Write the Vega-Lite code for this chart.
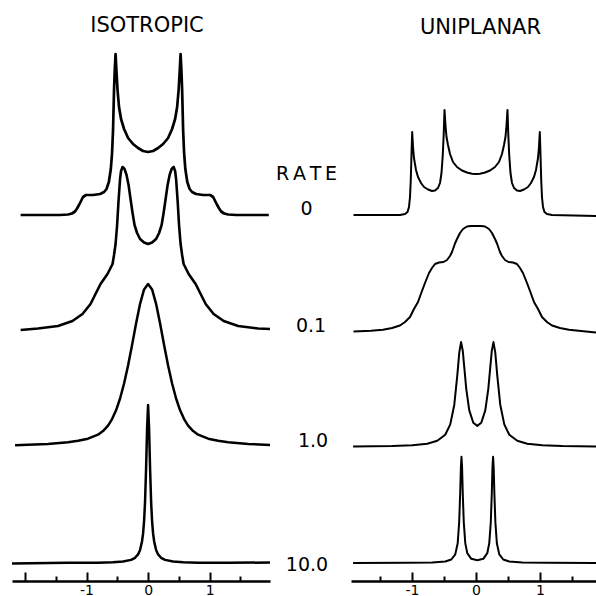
{
  "$schema": "https://vega.github.io/schema/vega-lite/v6.json",
  "padding": {"left": 10, "top": 14, "right": 0, "bottom": 0},
  "background": "white",
  "bounds": "flush",
  "columns": 2,
  "spacing": {"row": 0, "column": 81},
  "resolve": {"scale": {"x": "independent", "y": "independent"}},
  "config": {
    "view": {"stroke": null},
    "font": "DejaVu Sans",
    "line": {"color": "black", "strokeWidth": 2, "strokeJoin": "round", "strokeCap": "butt"},
    "title": {"fontSize": 21, "fontWeight": "normal", "color": "black", "font": "DejaVu Sans", "frame": "group"},
    "axisY": {
      "domain": false, "ticks": false, "labels": false, "grid": false,
      "titleAngle": 0, "titleAlign": "center", "titleBaseline": "alphabetic",
      "titleFont": "DejaVu Sans", "titleFontSize": 19, "titleFontWeight": "normal",
      "titleColor": "black", "titleLineHeight": 35
    },
    "axisX": {
      "values": [-1.5, -1, -0.5, 0, 0.5, 1, 1.5],
      "title": null,
      "grid": false,
      "offset": 18,
      "domainColor": "black",
      "domainWidth": 2.5,
      "tickColor": "black",
      "tickWidth": 2,
      "tickSize": {"condition": {"test": "datum.value % 1 === 0", "value": -9}, "value": -5},
      "labelExpr": "datum.value === -1 ? '-1' : datum.value === 0 ? '0' : datum.value === 1 ? '1' : ''",
      "labelFont": "DejaVu Sans",
      "labelFontSize": 14,
      "labelColor": "black",
      "labelPadding": 11,
      "labelFlush": false,
      "labelOverlap": false
    }
  },
  "datasets": {
    "iso": [
      {"rate": "0", "shift": -2.07, "intensity": 0},
      {"rate": "0", "shift": -1.431, "intensity": 0},
      {"rate": "0", "shift": -1.301, "intensity": 0.5},
      {"rate": "0", "shift": -1.236, "intensity": 1.5},
      {"rate": "0", "shift": -1.187, "intensity": 3.5},
      {"rate": "0", "shift": -1.154, "intensity": 6.5},
      {"rate": "0", "shift": -1.122, "intensity": 10},
      {"rate": "0", "shift": -1.089, "intensity": 14},
      {"rate": "0", "shift": -1.057, "intensity": 18},
      {"rate": "0", "shift": -1.008, "intensity": 20},
      {"rate": "0", "shift": -0.894, "intensity": 20},
      {"rate": "0", "shift": -0.78, "intensity": 21},
      {"rate": "0", "shift": -0.715, "intensity": 23},
      {"rate": "0", "shift": -0.675, "intensity": 26},
      {"rate": "0", "shift": -0.637, "intensity": 33},
      {"rate": "0", "shift": -0.605, "intensity": 46},
      {"rate": "0", "shift": -0.585, "intensity": 62},
      {"rate": "0", "shift": -0.569, "intensity": 85},
      {"rate": "0", "shift": -0.553, "intensity": 125},
      {"rate": "0", "shift": -0.541, "intensity": 145},
      {"rate": "0", "shift": -0.528, "intensity": 161},
      {"rate": "0", "shift": -0.512, "intensity": 142},
      {"rate": "0", "shift": -0.496, "intensity": 125},
      {"rate": "0", "shift": -0.472, "intensity": 108},
      {"rate": "0", "shift": -0.439, "intensity": 96},
      {"rate": "0", "shift": -0.39, "intensity": 86},
      {"rate": "0", "shift": -0.325, "intensity": 77},
      {"rate": "0", "shift": -0.244, "intensity": 71},
      {"rate": "0", "shift": -0.163, "intensity": 67},
      {"rate": "0", "shift": -0.081, "intensity": 64},
      {"rate": "0", "shift": 0, "intensity": 63},
      {"rate": "0", "shift": 0.081, "intensity": 64},
      {"rate": "0", "shift": 0.163, "intensity": 67},
      {"rate": "0", "shift": 0.244, "intensity": 71},
      {"rate": "0", "shift": 0.325, "intensity": 77},
      {"rate": "0", "shift": 0.39, "intensity": 86},
      {"rate": "0", "shift": 0.439, "intensity": 96},
      {"rate": "0", "shift": 0.472, "intensity": 108},
      {"rate": "0", "shift": 0.496, "intensity": 125},
      {"rate": "0", "shift": 0.512, "intensity": 142},
      {"rate": "0", "shift": 0.528, "intensity": 161},
      {"rate": "0", "shift": 0.541, "intensity": 145},
      {"rate": "0", "shift": 0.553, "intensity": 125},
      {"rate": "0", "shift": 0.569, "intensity": 85},
      {"rate": "0", "shift": 0.585, "intensity": 62},
      {"rate": "0", "shift": 0.605, "intensity": 46},
      {"rate": "0", "shift": 0.637, "intensity": 33},
      {"rate": "0", "shift": 0.675, "intensity": 26},
      {"rate": "0", "shift": 0.715, "intensity": 23},
      {"rate": "0", "shift": 0.78, "intensity": 21},
      {"rate": "0", "shift": 0.894, "intensity": 20},
      {"rate": "0", "shift": 1.008, "intensity": 20},
      {"rate": "0", "shift": 1.057, "intensity": 18},
      {"rate": "0", "shift": 1.089, "intensity": 14},
      {"rate": "0", "shift": 1.122, "intensity": 10},
      {"rate": "0", "shift": 1.154, "intensity": 6.5},
      {"rate": "0", "shift": 1.187, "intensity": 3.5},
      {"rate": "0", "shift": 1.236, "intensity": 1.5},
      {"rate": "0", "shift": 1.301, "intensity": 0.5},
      {"rate": "0", "shift": 1.431, "intensity": 0},
      {"rate": "0", "shift": 1.96, "intensity": 0},

      {"rate": "0.1", "shift": -2.07, "intensity": 1},
      {"rate": "0.1", "shift": -1.789, "intensity": 2.5},
      {"rate": "0.1", "shift": -1.463, "intensity": 5},
      {"rate": "0.1", "shift": -1.228, "intensity": 10},
      {"rate": "0.1", "shift": -1.065, "intensity": 17},
      {"rate": "0.1", "shift": -0.935, "intensity": 27},
      {"rate": "0.1", "shift": -0.854, "intensity": 37},
      {"rate": "0.1", "shift": -0.772, "intensity": 47},
      {"rate": "0.1", "shift": -0.659, "intensity": 57},
      {"rate": "0.1", "shift": -0.577, "intensity": 67},
      {"rate": "0.1", "shift": -0.553, "intensity": 76},
      {"rate": "0.1", "shift": -0.528, "intensity": 87},
      {"rate": "0.1", "shift": -0.504, "intensity": 105},
      {"rate": "0.1", "shift": -0.48, "intensity": 130},
      {"rate": "0.1", "shift": -0.455, "intensity": 152},
      {"rate": "0.1", "shift": -0.439, "intensity": 160},
      {"rate": "0.1", "shift": -0.415, "intensity": 164},
      {"rate": "0.1", "shift": -0.382, "intensity": 162},
      {"rate": "0.1", "shift": -0.35, "intensity": 156},
      {"rate": "0.1", "shift": -0.317, "intensity": 146},
      {"rate": "0.1", "shift": -0.285, "intensity": 132},
      {"rate": "0.1", "shift": -0.252, "intensity": 118},
      {"rate": "0.1", "shift": -0.22, "intensity": 106},
      {"rate": "0.1", "shift": -0.179, "intensity": 98},
      {"rate": "0.1", "shift": -0.13, "intensity": 92},
      {"rate": "0.1", "shift": -0.065, "intensity": 88.5},
      {"rate": "0.1", "shift": 0, "intensity": 87},
      {"rate": "0.1", "shift": 0.065, "intensity": 88.5},
      {"rate": "0.1", "shift": 0.13, "intensity": 92},
      {"rate": "0.1", "shift": 0.179, "intensity": 98},
      {"rate": "0.1", "shift": 0.22, "intensity": 106},
      {"rate": "0.1", "shift": 0.252, "intensity": 118},
      {"rate": "0.1", "shift": 0.285, "intensity": 132},
      {"rate": "0.1", "shift": 0.317, "intensity": 146},
      {"rate": "0.1", "shift": 0.35, "intensity": 156},
      {"rate": "0.1", "shift": 0.382, "intensity": 162},
      {"rate": "0.1", "shift": 0.415, "intensity": 164},
      {"rate": "0.1", "shift": 0.439, "intensity": 160},
      {"rate": "0.1", "shift": 0.455, "intensity": 152},
      {"rate": "0.1", "shift": 0.48, "intensity": 130},
      {"rate": "0.1", "shift": 0.504, "intensity": 105},
      {"rate": "0.1", "shift": 0.528, "intensity": 87},
      {"rate": "0.1", "shift": 0.553, "intensity": 76},
      {"rate": "0.1", "shift": 0.577, "intensity": 67},
      {"rate": "0.1", "shift": 0.659, "intensity": 57},
      {"rate": "0.1", "shift": 0.772, "intensity": 47},
      {"rate": "0.1", "shift": 0.854, "intensity": 37},
      {"rate": "0.1", "shift": 0.935, "intensity": 27},
      {"rate": "0.1", "shift": 1.065, "intensity": 17},
      {"rate": "0.1", "shift": 1.228, "intensity": 10},
      {"rate": "0.1", "shift": 1.463, "intensity": 5},
      {"rate": "0.1", "shift": 1.789, "intensity": 2.5},
      {"rate": "0.1", "shift": 1.98, "intensity": 2},

      {"rate": "1.0", "shift": -2.16, "intensity": 1.8},
      {"rate": "1.0", "shift": -1.951, "intensity": 2.2},
      {"rate": "1.0", "shift": -1.626, "intensity": 3.1},
      {"rate": "1.0", "shift": -1.301, "intensity": 4.8},
      {"rate": "1.0", "shift": -1.138, "intensity": 6.2},
      {"rate": "1.0", "shift": -0.976, "intensity": 8.3},
      {"rate": "1.0", "shift": -0.813, "intensity": 12.3},
      {"rate": "1.0", "shift": -0.732, "intensity": 15.9},
      {"rate": "1.0", "shift": -0.65, "intensity": 21.4},
      {"rate": "1.0", "shift": -0.585, "intensity": 27.9},
      {"rate": "1.0", "shift": -0.52, "intensity": 36.7},
      {"rate": "1.0", "shift": -0.455, "intensity": 48.5},
      {"rate": "1.0", "shift": -0.39, "intensity": 63.5},
      {"rate": "1.0", "shift": -0.325, "intensity": 81.5},
      {"rate": "1.0", "shift": -0.26, "intensity": 102},
      {"rate": "1.0", "shift": -0.195, "intensity": 123.4},
      {"rate": "1.0", "shift": -0.13, "intensity": 143.2},
      {"rate": "1.0", "shift": -0.065, "intensity": 157.6},
      {"rate": "1.0", "shift": 0, "intensity": 163},
      {"rate": "1.0", "shift": 0.065, "intensity": 157.6},
      {"rate": "1.0", "shift": 0.13, "intensity": 143.2},
      {"rate": "1.0", "shift": 0.195, "intensity": 123.4},
      {"rate": "1.0", "shift": 0.26, "intensity": 102},
      {"rate": "1.0", "shift": 0.325, "intensity": 81.5},
      {"rate": "1.0", "shift": 0.39, "intensity": 63.5},
      {"rate": "1.0", "shift": 0.455, "intensity": 48.5},
      {"rate": "1.0", "shift": 0.52, "intensity": 36.7},
      {"rate": "1.0", "shift": 0.585, "intensity": 27.9},
      {"rate": "1.0", "shift": 0.65, "intensity": 21.4},
      {"rate": "1.0", "shift": 0.732, "intensity": 15.9},
      {"rate": "1.0", "shift": 0.813, "intensity": 12.3},
      {"rate": "1.0", "shift": 0.976, "intensity": 8.3},
      {"rate": "1.0", "shift": 1.138, "intensity": 6.2},
      {"rate": "1.0", "shift": 1.301, "intensity": 4.8},
      {"rate": "1.0", "shift": 1.626, "intensity": 3.1},
      {"rate": "1.0", "shift": 1.98, "intensity": 2},

      {"rate": "10.0", "shift": -2.21, "intensity": -0.5},
      {"rate": "10.0", "shift": -1.301, "intensity": 0.14},
      {"rate": "10.0", "shift": -0.813, "intensity": 0.36},
      {"rate": "10.0", "shift": -0.569, "intensity": 0.74},
      {"rate": "10.0", "shift": -0.407, "intensity": 1.44},
      {"rate": "10.0", "shift": -0.276, "intensity": 3.1},
      {"rate": "10.0", "shift": -0.211, "intensity": 5.2},
      {"rate": "10.0", "shift": -0.163, "intensity": 8.6},
      {"rate": "10.0", "shift": -0.13, "intensity": 13.1},
      {"rate": "10.0", "shift": -0.098, "intensity": 21.8},
      {"rate": "10.0", "shift": -0.081, "intensity": 29.6},
      {"rate": "10.0", "shift": -0.065, "intensity": 41.8},
      {"rate": "10.0", "shift": -0.049, "intensity": 61.7},
      {"rate": "10.0", "shift": -0.033, "intensity": 93.3},
      {"rate": "10.0", "shift": -0.016, "intensity": 134.6},
      {"rate": "10.0", "shift": 0, "intensity": 158},
      {"rate": "10.0", "shift": 0.016, "intensity": 134.6},
      {"rate": "10.0", "shift": 0.033, "intensity": 93.3},
      {"rate": "10.0", "shift": 0.049, "intensity": 61.7},
      {"rate": "10.0", "shift": 0.065, "intensity": 41.8},
      {"rate": "10.0", "shift": 0.081, "intensity": 29.6},
      {"rate": "10.0", "shift": 0.098, "intensity": 21.8},
      {"rate": "10.0", "shift": 0.13, "intensity": 13.1},
      {"rate": "10.0", "shift": 0.163, "intensity": 8.6},
      {"rate": "10.0", "shift": 0.211, "intensity": 5.2},
      {"rate": "10.0", "shift": 0.276, "intensity": 3.1},
      {"rate": "10.0", "shift": 0.407, "intensity": 1.44},
      {"rate": "10.0", "shift": 0.569, "intensity": 0.74},
      {"rate": "10.0", "shift": 0.813, "intensity": 0.36},
      {"rate": "10.0", "shift": 1.301, "intensity": 0.14},
      {"rate": "10.0", "shift": 1.98, "intensity": 0.5}
    ],
    "uni": [
      {"rate": "0", "shift": -1.914, "intensity": 0},
      {"rate": "0", "shift": -1.1875, "intensity": 0},
      {"rate": "0", "shift": -1.109, "intensity": 1},
      {"rate": "0", "shift": -1.07, "intensity": 3},
      {"rate": "0", "shift": -1.047, "intensity": 8},
      {"rate": "0", "shift": -1.031, "intensity": 18},
      {"rate": "0", "shift": -1.019, "intensity": 35},
      {"rate": "0", "shift": -1.008, "intensity": 60},
      {"rate": "0", "shift": -0.997, "intensity": 83},
      {"rate": "0", "shift": -0.984, "intensity": 68},
      {"rate": "0", "shift": -0.969, "intensity": 57},
      {"rate": "0", "shift": -0.9375, "intensity": 45},
      {"rate": "0", "shift": -0.906, "intensity": 38},
      {"rate": "0", "shift": -0.859, "intensity": 32},
      {"rate": "0", "shift": -0.8125, "intensity": 28},
      {"rate": "0", "shift": -0.75, "intensity": 25.5},
      {"rate": "0", "shift": -0.6875, "intensity": 24},
      {"rate": "0", "shift": -0.641, "intensity": 24.5},
      {"rate": "0", "shift": -0.594, "intensity": 27},
      {"rate": "0", "shift": -0.5625, "intensity": 32},
      {"rate": "0", "shift": -0.539, "intensity": 42},
      {"rate": "0", "shift": -0.519, "intensity": 60},
      {"rate": "0", "shift": -0.505, "intensity": 80},
      {"rate": "0", "shift": -0.492, "intensity": 105},
      {"rate": "0", "shift": -0.477, "intensity": 90},
      {"rate": "0", "shift": -0.461, "intensity": 78},
      {"rate": "0", "shift": -0.4375, "intensity": 70},
      {"rate": "0", "shift": -0.406, "intensity": 61},
      {"rate": "0", "shift": -0.359, "intensity": 53},
      {"rate": "0", "shift": -0.297, "intensity": 48},
      {"rate": "0", "shift": -0.219, "intensity": 44.5},
      {"rate": "0", "shift": -0.141, "intensity": 42.5},
      {"rate": "0", "shift": -0.0625, "intensity": 41.3},
      {"rate": "0", "shift": 0, "intensity": 41},
      {"rate": "0", "shift": 0.0625, "intensity": 41.3},
      {"rate": "0", "shift": 0.141, "intensity": 42.5},
      {"rate": "0", "shift": 0.219, "intensity": 44.5},
      {"rate": "0", "shift": 0.297, "intensity": 48},
      {"rate": "0", "shift": 0.359, "intensity": 53},
      {"rate": "0", "shift": 0.406, "intensity": 61},
      {"rate": "0", "shift": 0.4375, "intensity": 70},
      {"rate": "0", "shift": 0.461, "intensity": 78},
      {"rate": "0", "shift": 0.477, "intensity": 90},
      {"rate": "0", "shift": 0.492, "intensity": 105},
      {"rate": "0", "shift": 0.505, "intensity": 80},
      {"rate": "0", "shift": 0.519, "intensity": 60},
      {"rate": "0", "shift": 0.539, "intensity": 42},
      {"rate": "0", "shift": 0.5625, "intensity": 32},
      {"rate": "0", "shift": 0.594, "intensity": 27},
      {"rate": "0", "shift": 0.641, "intensity": 24.5},
      {"rate": "0", "shift": 0.6875, "intensity": 24},
      {"rate": "0", "shift": 0.75, "intensity": 25.5},
      {"rate": "0", "shift": 0.8125, "intensity": 28},
      {"rate": "0", "shift": 0.859, "intensity": 32},
      {"rate": "0", "shift": 0.906, "intensity": 38},
      {"rate": "0", "shift": 0.9375, "intensity": 45},
      {"rate": "0", "shift": 0.969, "intensity": 57},
      {"rate": "0", "shift": 0.984, "intensity": 68},
      {"rate": "0", "shift": 0.997, "intensity": 83},
      {"rate": "0", "shift": 1.008, "intensity": 60},
      {"rate": "0", "shift": 1.019, "intensity": 35},
      {"rate": "0", "shift": 1.031, "intensity": 18},
      {"rate": "0", "shift": 1.047, "intensity": 8},
      {"rate": "0", "shift": 1.07, "intensity": 3},
      {"rate": "0", "shift": 1.109, "intensity": 1},
      {"rate": "0", "shift": 1.1875, "intensity": 0},
      {"rate": "0", "shift": 1.875, "intensity": -1},

      {"rate": "0.1", "shift": -1.914, "intensity": -0.5},
      {"rate": "0.1", "shift": -1.641, "intensity": 0.3},
      {"rate": "0.1", "shift": -1.453, "intensity": 1.2},
      {"rate": "0.1", "shift": -1.3125, "intensity": 3},
      {"rate": "0.1", "shift": -1.1875, "intensity": 5.5},
      {"rate": "0.1", "shift": -1.109, "intensity": 9},
      {"rate": "0.1", "shift": -1.031, "intensity": 14},
      {"rate": "0.1", "shift": -0.969, "intensity": 22},
      {"rate": "0.1", "shift": -0.906, "intensity": 29},
      {"rate": "0.1", "shift": -0.844, "intensity": 40},
      {"rate": "0.1", "shift": -0.797, "intensity": 48},
      {"rate": "0.1", "shift": -0.734, "intensity": 58},
      {"rate": "0.1", "shift": -0.6875, "intensity": 63},
      {"rate": "0.1", "shift": -0.641, "intensity": 67},
      {"rate": "0.1", "shift": -0.578, "intensity": 68.5},
      {"rate": "0.1", "shift": -0.508, "intensity": 69},
      {"rate": "0.1", "shift": -0.453, "intensity": 71},
      {"rate": "0.1", "shift": -0.406, "intensity": 75},
      {"rate": "0.1", "shift": -0.375, "intensity": 79},
      {"rate": "0.1", "shift": -0.328, "intensity": 87.5},
      {"rate": "0.1", "shift": -0.297, "intensity": 92},
      {"rate": "0.1", "shift": -0.25, "intensity": 98},
      {"rate": "0.1", "shift": -0.203, "intensity": 102},
      {"rate": "0.1", "shift": -0.141, "intensity": 104.5},
      {"rate": "0.1", "shift": -0.078, "intensity": 105},
      {"rate": "0.1", "shift": 0, "intensity": 105},
      {"rate": "0.1", "shift": 0.078, "intensity": 105},
      {"rate": "0.1", "shift": 0.141, "intensity": 104.5},
      {"rate": "0.1", "shift": 0.203, "intensity": 102},
      {"rate": "0.1", "shift": 0.25, "intensity": 98},
      {"rate": "0.1", "shift": 0.297, "intensity": 92},
      {"rate": "0.1", "shift": 0.328, "intensity": 87.5},
      {"rate": "0.1", "shift": 0.375, "intensity": 79},
      {"rate": "0.1", "shift": 0.406, "intensity": 75},
      {"rate": "0.1", "shift": 0.453, "intensity": 71},
      {"rate": "0.1", "shift": 0.508, "intensity": 69},
      {"rate": "0.1", "shift": 0.578, "intensity": 68.5},
      {"rate": "0.1", "shift": 0.641, "intensity": 67},
      {"rate": "0.1", "shift": 0.6875, "intensity": 63},
      {"rate": "0.1", "shift": 0.734, "intensity": 58},
      {"rate": "0.1", "shift": 0.797, "intensity": 48},
      {"rate": "0.1", "shift": 0.844, "intensity": 40},
      {"rate": "0.1", "shift": 0.906, "intensity": 29},
      {"rate": "0.1", "shift": 0.969, "intensity": 22},
      {"rate": "0.1", "shift": 1.031, "intensity": 14},
      {"rate": "0.1", "shift": 1.109, "intensity": 9},
      {"rate": "0.1", "shift": 1.1875, "intensity": 5.5},
      {"rate": "0.1", "shift": 1.3125, "intensity": 3},
      {"rate": "0.1", "shift": 1.453, "intensity": 1.2},
      {"rate": "0.1", "shift": 1.641, "intensity": 0},
      {"rate": "0.1", "shift": 1.875, "intensity": -1.5},

      {"rate": "1.0", "shift": -1.92, "intensity": 0.4},
      {"rate": "1.0", "shift": -1.308, "intensity": 0.95},
      {"rate": "1.0", "shift": -0.996, "intensity": 1.75},
      {"rate": "1.0", "shift": -0.761, "intensity": 3.3},
      {"rate": "1.0", "shift": -0.605, "intensity": 6.2},
      {"rate": "1.0", "shift": -0.48, "intensity": 12.3},
      {"rate": "1.0", "shift": -0.402, "intensity": 22.6},
      {"rate": "1.0", "shift": -0.339, "intensity": 42.3},
      {"rate": "1.0", "shift": -0.2925, "intensity": 71.4},
      {"rate": "1.0", "shift": -0.261, "intensity": 94.7},
      {"rate": "1.0", "shift": -0.233, "intensity": 104.9},
      {"rate": "1.0", "shift": -0.207, "intensity": 96.3},
      {"rate": "1.0", "shift": -0.183, "intensity": 79.7},
      {"rate": "1.0", "shift": -0.152, "intensity": 57.9},
      {"rate": "1.0", "shift": -0.105, "intensity": 36.6},
      {"rate": "1.0", "shift": -0.0425, "intensity": 24.3},
      {"rate": "1.0", "shift": 0.02, "intensity": 21.1},
      {"rate": "1.0", "shift": 0.0825, "intensity": 24.3},
      {"rate": "1.0", "shift": 0.145, "intensity": 36.6},
      {"rate": "1.0", "shift": 0.192, "intensity": 57.9},
      {"rate": "1.0", "shift": 0.223, "intensity": 79.7},
      {"rate": "1.0", "shift": 0.247, "intensity": 96.3},
      {"rate": "1.0", "shift": 0.273, "intensity": 104.9},
      {"rate": "1.0", "shift": 0.301, "intensity": 94.7},
      {"rate": "1.0", "shift": 0.3325, "intensity": 71.4},
      {"rate": "1.0", "shift": 0.379, "intensity": 42.3},
      {"rate": "1.0", "shift": 0.442, "intensity": 22.6},
      {"rate": "1.0", "shift": 0.52, "intensity": 12.3},
      {"rate": "1.0", "shift": 0.645, "intensity": 6.2},
      {"rate": "1.0", "shift": 0.801, "intensity": 3.3},
      {"rate": "1.0", "shift": 1.036, "intensity": 1.75},
      {"rate": "1.0", "shift": 1.348, "intensity": 0.95},
      {"rate": "1.0", "shift": 1.875, "intensity": 0.4},

      {"rate": "10.0", "shift": -1.92, "intensity": 0},
      {"rate": "10.0", "shift": -1.074, "intensity": 0.2},
      {"rate": "10.0", "shift": -0.683, "intensity": 0.6},
      {"rate": "10.0", "shift": -0.48, "intensity": 1.5},
      {"rate": "10.0", "shift": -0.386, "intensity": 3.5},
      {"rate": "10.0", "shift": -0.324, "intensity": 8.6},
      {"rate": "10.0", "shift": -0.286, "intensity": 19.7},
      {"rate": "10.0", "shift": -0.263, "intensity": 40.6},
      {"rate": "10.0", "shift": -0.247, "intensity": 69.9},
      {"rate": "10.0", "shift": -0.236, "intensity": 95.7},
      {"rate": "10.0", "shift": -0.227, "intensity": 106.3},
      {"rate": "10.0", "shift": -0.2175, "intensity": 95.8},
      {"rate": "10.0", "shift": -0.207, "intensity": 70},
      {"rate": "10.0", "shift": -0.191, "intensity": 40.7},
      {"rate": "10.0", "shift": -0.1675, "intensity": 19.9},
      {"rate": "10.0", "shift": -0.136, "intensity": 9.8},
      {"rate": "10.0", "shift": -0.074, "intensity": 4.2},
      {"rate": "10.0", "shift": 0.02, "intensity": 2.7},
      {"rate": "10.0", "shift": 0.114, "intensity": 4.2},
      {"rate": "10.0", "shift": 0.176, "intensity": 9.8},
      {"rate": "10.0", "shift": 0.2075, "intensity": 19.9},
      {"rate": "10.0", "shift": 0.231, "intensity": 40.7},
      {"rate": "10.0", "shift": 0.247, "intensity": 70},
      {"rate": "10.0", "shift": 0.2575, "intensity": 95.8},
      {"rate": "10.0", "shift": 0.267, "intensity": 106.3},
      {"rate": "10.0", "shift": 0.276, "intensity": 95.7},
      {"rate": "10.0", "shift": 0.287, "intensity": 69.9},
      {"rate": "10.0", "shift": 0.303, "intensity": 40.6},
      {"rate": "10.0", "shift": 0.326, "intensity": 19.7},
      {"rate": "10.0", "shift": 0.364, "intensity": 8.6},
      {"rate": "10.0", "shift": 0.426, "intensity": 3.5},
      {"rate": "10.0", "shift": 0.52, "intensity": 1.5},
      {"rate": "10.0", "shift": 0.723, "intensity": 0.6},
      {"rate": "10.0", "shift": 1.114, "intensity": 0.2},
      {"rate": "10.0", "shift": 1.875, "intensity": 0}
    ]
  },
  "concat": [
    {
      "title": {"text": "ISOTROPIC", "offset": 17, "dx": 6},
      "width": 258, "height": 116,
      "data": {"name": "iso"},
      "transform": [{"filter": "datum.rate === '0'"}],
      "mark": {"type": "line", "strokeWidth": 2.7},
      "encoding": {
        "x": {"field": "shift", "type": "quantitative", "scale": {"domain": [-2.21, 1.98], "nice": false, "zero": false}, "axis": null},
        "y": {"field": "intensity", "type": "quantitative", "scale": {"domain": [0, 116], "nice": false}, "axis": null}
      }
    },
    {
      "title": {"text": "UNIPLANAR", "offset": 61, "dx": 7},
      "width": 245, "height": 116,
      "data": {"name": "uni"},
      "transform": [{"filter": "datum.rate === '0'"}],
      "mark": "line",
      "encoding": {
        "x": {"field": "shift", "type": "quantitative", "scale": {"domain": [-1.953, 1.875], "nice": false, "zero": false}, "axis": null},
        "y": {"field": "intensity", "type": "quantitative", "scale": {"domain": [0, 116], "nice": false},
              "axis": {"title": ["R\u2009A\u2009T\u2009E", "0"], "titleX": -45, "titleY": 80}}
      }
    },
    {
      "width": 258, "height": 116,
      "data": {"name": "iso"},
      "transform": [{"filter": "datum.rate === '0.1'"}],
      "mark": {"type": "line", "strokeWidth": 2.6},
      "encoding": {
        "x": {"field": "shift", "type": "quantitative", "scale": {"domain": [-2.21, 1.98], "nice": false, "zero": false}, "axis": null},
        "y": {"field": "intensity", "type": "quantitative", "scale": {"domain": [0, 116], "nice": false}, "axis": null}
      }
    },
    {
      "width": 245, "height": 116,
      "data": {"name": "uni"},
      "transform": [{"filter": "datum.rate === '0.1'"}],
      "mark": "line",
      "encoding": {
        "x": {"field": "shift", "type": "quantitative", "scale": {"domain": [-1.953, 1.875], "nice": false, "zero": false}, "axis": null},
        "y": {"field": "intensity", "type": "quantitative", "scale": {"domain": [0, 116], "nice": false},
              "axis": {"title": "0.1", "titleX": -40.5, "titleY": 116}}
      }
    },
    {
      "width": 258, "height": 116,
      "data": {"name": "iso"},
      "transform": [{"filter": "datum.rate === '1.0'"}],
      "mark": {"type": "line", "strokeWidth": 2.5},
      "encoding": {
        "x": {"field": "shift", "type": "quantitative", "scale": {"domain": [-2.21, 1.98], "nice": false, "zero": false}, "axis": null},
        "y": {"field": "intensity", "type": "quantitative", "scale": {"domain": [0, 116], "nice": false}, "axis": null}
      }
    },
    {
      "width": 245, "height": 116,
      "data": {"name": "uni"},
      "transform": [{"filter": "datum.rate === '1.0'"}],
      "mark": "line",
      "encoding": {
        "x": {"field": "shift", "type": "quantitative", "scale": {"domain": [-1.953, 1.875], "nice": false, "zero": false}, "axis": null},
        "y": {"field": "intensity", "type": "quantitative", "scale": {"domain": [0, 116], "nice": false},
              "axis": {"title": "1.0", "titleX": -38.5, "titleY": 115}}
      }
    },
    {
      "width": 258, "height": 116,
      "data": {"name": "iso"},
      "transform": [{"filter": "datum.rate === '10.0'"}],
      "mark": {"type": "line", "strokeWidth": 2.5},
      "encoding": {
        "x": {"field": "shift", "type": "quantitative", "scale": {"domain": [-2.21, 1.98], "nice": false, "zero": false}},
        "y": {"field": "intensity", "type": "quantitative", "scale": {"domain": [0, 116], "nice": false}, "axis": null}
      }
    },
    {
      "width": 245, "height": 116,
      "data": {"name": "uni"},
      "transform": [{"filter": "datum.rate === '10.0'"}],
      "mark": "line",
      "encoding": {
        "x": {"field": "shift", "type": "quantitative", "scale": {"domain": [-1.953, 1.875], "nice": false, "zero": false}},
        "y": {"field": "intensity", "type": "quantitative", "scale": {"domain": [0, 116], "nice": false},
              "axis": {"title": "10.0", "titleX": -44.5, "titleY": 123}}
      }
    }
  ]
}
